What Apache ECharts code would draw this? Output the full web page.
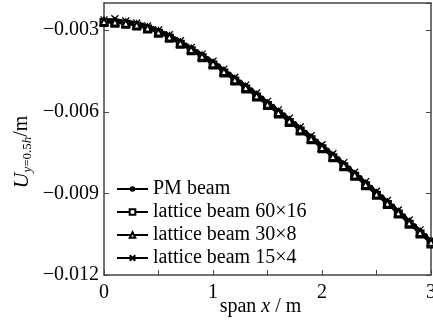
<!DOCTYPE html>
<html>
<head>
<meta charset="utf-8">
<script src="https://cdn.jsdelivr.net/npm/echarts@6/dist/echarts.min.js"></script>
<style>
  html, body { margin: 0; padding: 0; background: #fff; }
  #chart { width: 433px; height: 322px; }
</style>
</head>
<body>
<div id="chart"></div>
<script>
// span positions x (m) of the lattice models
var spanX = [0, 0.1, 0.2, 0.3, 0.4, 0.5, 0.6, 0.7, 0.8, 0.9, 1.0,
             1.1, 1.2, 1.3, 1.4, 1.5, 1.6, 1.7, 1.8, 1.9, 2.0,
             2.1, 2.2, 2.3, 2.4, 2.5, 2.6, 2.7, 2.8, 2.9, 3.0];
// span positions x (m) of the PM beam (finer output)
var spanXFine = [0, 0.05, 0.1, 0.15, 0.2, 0.25, 0.3, 0.35, 0.4, 0.45, 0.5, 0.55, 0.6, 0.65, 0.7, 0.75,
                 0.8, 0.85, 0.9, 0.95, 1.0, 1.05, 1.1, 1.15, 1.2, 1.25, 1.3, 1.35, 1.4, 1.45, 1.5,
                 1.55, 1.6, 1.65, 1.7, 1.75, 1.8, 1.85, 1.9, 1.95, 2.0, 2.05, 2.1, 2.15, 2.2, 2.25,
                 2.3, 2.35, 2.4, 2.45, 2.5, 2.55, 2.6, 2.65, 2.7, 2.75, 2.8, 2.85, 2.9, 2.95, 3.0];

// U at y = 0.5h (m)
var pmBeam = [-0.00265, -0.00265, -0.00266, -0.00268, -0.00270, -0.00273, -0.00276, -0.00281, -0.00287, -0.00294,
              -0.00302, -0.00311, -0.00320, -0.00331, -0.00342, -0.00354, -0.00366, -0.00378, -0.00391, -0.00404,
              -0.00417, -0.00431, -0.00446, -0.00461, -0.00476, -0.00490, -0.00505, -0.00519, -0.00534, -0.00549,
              -0.00565, -0.00580, -0.00596, -0.00611, -0.00627, -0.00643, -0.00659, -0.00675, -0.00691, -0.00707,
              -0.00724, -0.00740, -0.00757, -0.00773, -0.00790, -0.00807, -0.00825, -0.00842, -0.00860, -0.00877,
              -0.00895, -0.00912, -0.00929, -0.00946, -0.00964, -0.00982, -0.01001, -0.01019, -0.01037, -0.01055,
              -0.01074];
var lattice60x16 = [-0.00272, -0.00274, -0.00278, -0.00285, -0.00296, -0.00311, -0.00330, -0.00352, -0.00376, -0.00401, -0.00428,
                    -0.00457, -0.00487, -0.00516, -0.00546, -0.00577, -0.00608, -0.00639, -0.00671, -0.00703, -0.00736,
                    -0.00769, -0.00802, -0.00837, -0.00872, -0.00907, -0.00941, -0.00976, -0.01013, -0.01049, -0.01086];
var lattice30x8 = [-0.00268, -0.00270, -0.00274, -0.00281, -0.00292, -0.00307, -0.00325, -0.00347, -0.00371, -0.00396, -0.00423,
                   -0.00452, -0.00482, -0.00511, -0.00541, -0.00572, -0.00603, -0.00634, -0.00666, -0.00698, -0.00731,
                   -0.00764, -0.00797, -0.00832, -0.00867, -0.00902, -0.00936, -0.00971, -0.01008, -0.01044, -0.01080];
var lattice15x4 = [-0.00262, -0.00258, -0.00266, -0.00273, -0.00284, -0.00299, -0.00317, -0.00339, -0.00363, -0.00388, -0.00414,
                   -0.00443, -0.00473, -0.00502, -0.00531, -0.00562, -0.00593, -0.00624, -0.00656, -0.00688, -0.00721,
                   -0.00754, -0.00787, -0.00822, -0.00857, -0.00892, -0.00926, -0.00961, -0.00998, -0.01034, -0.01071];

var seriesNames = ['PM beam', 'lattice beam 60\u00d716', 'lattice beam 30\u00d78', 'lattice beam 15\u00d74'];
var yTicks = [-0.012, -0.009, -0.006, -0.003];
var xTicks = [0, 1, 2, 3];

function pairs(xs, ys) {
    return xs.map(function (x, i) { return [x, ys[i]]; });
}

var serif = 'Liberation Serif, Times New Roman, serif';
var axisColor = '#444';

var chart = echarts.init(document.getElementById('chart'), null, { renderer: 'canvas' });

var option = {
    animation: false,
    backgroundColor: '#fff',
    grid: { left: 104, right: 2, top: 3, bottom: 47, containLabel: false, outerBoundsMode: 'none' },
    legend: {
        orient: 'vertical',
        left: 116,
        top: 179,
        itemWidth: 31,
        itemHeight: 7,
        itemGap: 3,
        padding: 0,
        data: seriesNames,
        textStyle: { fontFamily: serif, fontSize: 20, color: '#000', lineHeight: 20 }
    },
    xAxis: [{
        type: 'value',
        min: 0, max: 3, interval: 0.5,
        name: '{n|span }{i|x}{n| / m}',
        nameLocation: 'middle',
        nameGap: 22,
        nameMoveOverlap: false,
        nameTextStyle: {
            rich: {
                n: { fontFamily: serif, fontSize: 20, color: '#000' },
                i: { fontFamily: serif, fontSize: 20, fontStyle: 'italic', color: '#000' }
            },
            padding: [0, 14, 0, 0]
        },
        axisLine: { lineStyle: { color: axisColor, width: 1.5 } },
        axisTick: { inside: true, length: 5, lineStyle: { color: axisColor } },
        splitLine: { show: false },
        axisLabel: {
            margin: 8,
            alignMinLabel: 'center', alignMaxLabel: 'center',
            fontFamily: serif, fontSize: 20, color: '#000',
            formatter: function (v) { return xTicks.indexOf(v) >= 0 ? String(v) : ''; }
        }
    }, {
        type: 'value', position: 'top',
        min: 0, max: 3,
        axisLine: { onZero: false, lineStyle: { color: axisColor, width: 1.5 } },
        axisTick: { show: false }, axisLabel: { show: false }, splitLine: { show: false }
    }],
    yAxis: [{
        type: 'value',
        min: -0.012, max: -0.002, interval: 0.003,
        name: '{u|U}{s|y}{t|=0.5}{s|h}{n|/m}',
        nameLocation: 'middle',
        nameRotate: 90,
        nameGap: 70,
        nameMoveOverlap: false,
        nameTextStyle: {
            padding: [0, 26, 0, 0],
            rich: {
                u: { fontFamily: serif, fontSize: 22, fontStyle: 'italic', color: '#000', lineHeight: 24, verticalAlign: 'middle' },
                s: { fontFamily: serif, fontSize: 13, fontStyle: 'italic', color: '#000', lineHeight: 24, verticalAlign: 'bottom' },
                t: { fontFamily: serif, fontSize: 13, color: '#000', lineHeight: 24, verticalAlign: 'bottom' },
                n: { fontFamily: serif, fontSize: 20, color: '#000', lineHeight: 24, verticalAlign: 'middle' }
            }
        },
        axisLine: { onZero: false, lineStyle: { color: axisColor, width: 1.5 } },
        axisTick: { inside: true, length: 5, lineStyle: { color: axisColor } },
        splitLine: { show: false },
        axisLabel: {
            margin: 5,
            showMaxLabel: false,
            fontFamily: serif, fontSize: 20, color: '#000',
            formatter: function (v) {
                for (var i = 0; i < yTicks.length; i++) {
                    if (Math.abs(v - yTicks[i]) < 1e-9) return '\u2212' + Math.abs(yTicks[i]).toFixed(3);
                }
                return '';
            }
        }
    }, {
        type: 'value', position: 'right',
        min: -0.012, max: -0.002, interval: 0.003,
        axisLine: { show: true, onZero: false, lineStyle: { color: axisColor, width: 1.5 } },
        axisTick: { inside: true, length: 5, lineStyle: { color: axisColor } },
        axisLabel: { show: false }, splitLine: { show: false }
    }],
    series: [{
        name: seriesNames[0], type: 'line',
        data: pairs(spanXFine, pmBeam),
        symbol: 'circle', symbolSize: 5,
        lineStyle: { color: '#000', width: 2.5 },
        itemStyle: { color: '#000' }
    }, {
        name: seriesNames[1], type: 'line',
        data: pairs(spanX, lattice60x16),
        symbol: 'emptyRect', symbolSize: 7,
        lineStyle: { color: '#000', width: 1.5 },
        itemStyle: { color: '#000', borderWidth: 1.3 }
    }, {
        name: seriesNames[2], type: 'line',
        data: pairs(spanX, lattice30x8),
        symbol: 'emptyTriangle', symbolSize: 7,
        lineStyle: { color: '#000', width: 1.5 },
        itemStyle: { color: '#000', borderWidth: 1.3 }
    }, {
        name: seriesNames[3], type: 'line',
        data: pairs(spanX, lattice15x4),
        symbol: 'path://M0,0L10,10M10,0L0,10', symbolSize: 7,
        lineStyle: { color: '#000', width: 1.5 },
        itemStyle: { color: 'none', borderColor: '#000', borderWidth: 1.3 }
    }]
};

chart.setOption(option);
</script>
</body>
</html>
